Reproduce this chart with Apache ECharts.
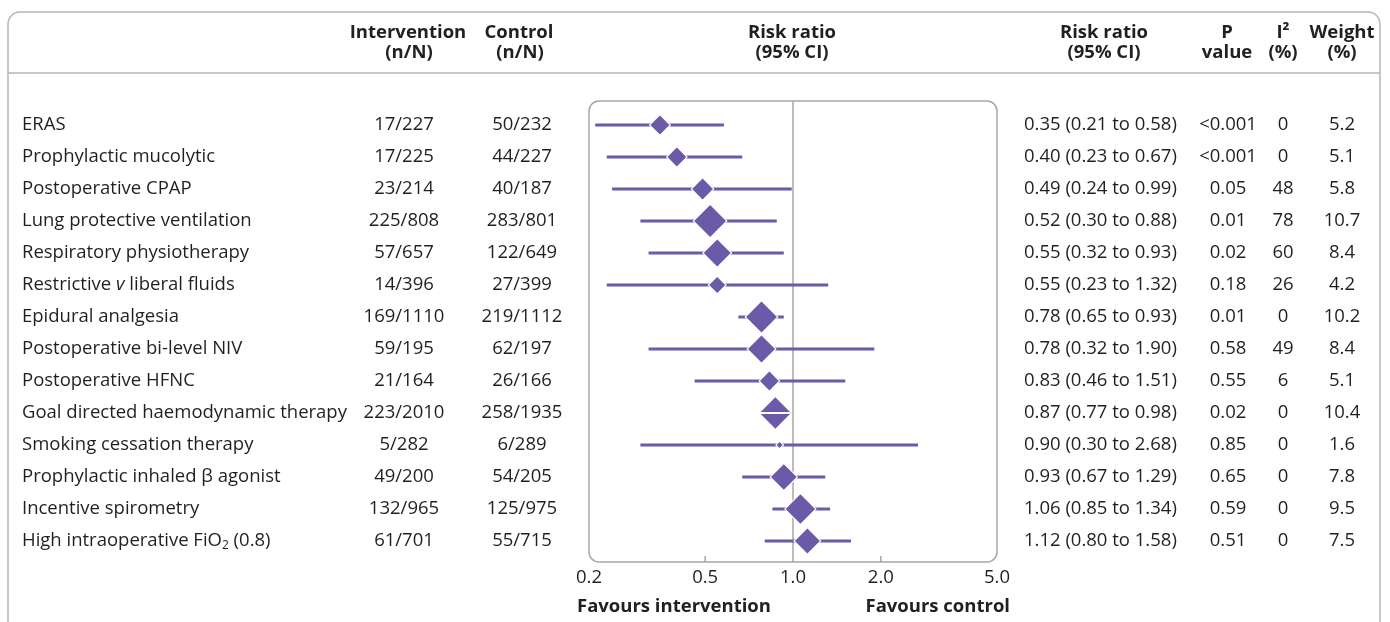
<!DOCTYPE html>
<html>
<head>
<meta charset="utf-8">
<script src="https://cdn.jsdelivr.net/npm/echarts@6/dist/echarts.min.js"></script>
<style>
html,body{margin:0;padding:0;background:#fff;}
#chart{width:1390px;height:622px;}
</style>
</head>
<body>
<div id="chart"></div>
<script>
// ---- data ----
const categories = [
  'ERAS', 'Prophylactic mucolytic', 'Postoperative CPAP', 'Lung protective ventilation',
  'Respiratory physiotherapy', 'Restrictive {i|v} liberal fluids', 'Epidural analgesia',
  'Postoperative bi-level NIV', 'Postoperative HFNC', 'Goal directed haemodynamic therapy',
  'Smoking cessation therapy', 'Prophylactic inhaled β agonist', 'Incentive spirometry',
  'High intraoperative FiO{sub|2} (0.8)'
];
const intervention = ['17/227','17/225','23/214','225/808','57/657','14/396','169/1110','59/195','21/164','223/2010','5/282','49/200','132/965','61/701'];
const control = ['50/232','44/227','40/187','283/801','122/649','27/399','219/1112','62/197','26/166','258/1935','6/289','54/205','125/975','55/715'];
const riskRatio = [0.35,0.40,0.49,0.52,0.55,0.55,0.78,0.78,0.83,0.87,0.90,0.93,1.06,1.12];
const ciLower = [0.21,0.23,0.24,0.30,0.32,0.23,0.65,0.32,0.46,0.77,0.30,0.67,0.85,0.80];
const ciUpper = [0.58,0.67,0.99,0.88,0.93,1.32,0.93,1.90,1.51,0.98,2.68,1.29,1.34,1.58];
const pValues = ['<0.001','<0.001','0.05','0.01','0.02','0.18','0.01','0.58','0.55','0.02','0.85','0.65','0.59','0.51'];
const i2 = [0,0,48,78,60,26,0,49,6,0,0,0,0,0];
const weights = [5.2,5.1,5.8,10.7,8.4,4.2,10.2,8.4,5.1,10.4,1.6,7.8,9.5,7.5];
const xTicks = [0.2,0.5,1.0,2.0,5.0];
const xTickLabels = ['0.2','0.5','1.0','2.0','5.0'];

// ---- layout ----
const PURPLE = '#6a5aa7';
const TEXT = '#231f20';
const GRAY = '#a6a6a6';
const FONT = '"Open Sans", "Noto Sans", sans-serif';
const FS = 18.5;
const G = {left: 589, top: 101, width: 408, height: 461};
const Y_MIN = -0.75, Y_MAX = 13.656;

const chart = echarts.init(document.getElementById('chart'), null, {renderer: 'canvas'});

const forestData = riskRatio.map((v, i) => [v, i, ciLower[i], ciUpper[i], weights[i]]);
const tableData = categories.map((c, i) => [1, i]);
const tickData = xTicks.map((t, i) => [t, Y_MAX, i]);

function txt(x, y, text, align, extra) {
  return {
    type: 'text',
    style: Object.assign({
      x: x, y: y, text: text, align: align, verticalAlign: 'middle',
      fill: TEXT, fontSize: FS, fontFamily: FONT
    }, extra || {})
  };
}
function diamond(cx, cy, h) {
  return [[cx - h, cy], [cx, cy - h], [cx + h, cy], [cx, cy + h]];
}

const option = {
  animation: false,
  grid: {left: G.left, top: G.top, width: G.width, height: G.height, show: false},
  xAxis: {
    type: 'log', logBase: 10, min: 0.2, max: 5,
    axisLine: {show: false}, axisTick: {show: false}, axisLabel: {show: false}, splitLine: {show: false}
  },
  yAxis: {
    type: 'value', inverse: true, min: Y_MIN, max: Y_MAX,
    axisLine: {show: false}, axisTick: {show: false}, axisLabel: {show: false}, splitLine: {show: false}
  },
  graphic: [
    {type: 'rect', shape: {x: 8, y: 12, width: 1372, height: 700, r: 12}, style: {fill: 'none', stroke: '#b5b5b5', lineWidth: 1.5}, z: 0},
    {type: 'line', shape: {x1: 8, y1: 73, x2: 1380, y2: 73}, style: {stroke: '#b5b5b5', lineWidth: 1.5}, z: 0},
    {type: 'rect', shape: {x: G.left, y: G.top, width: G.width, height: G.height, r: 10}, style: {fill: 'none', stroke: GRAY, lineWidth: 1.5}, z: 0},
    {type: 'group', children: [
      ['Intervention', 408, 33], ['(n/N)', 409, 53],
      ['Control', 519, 33], ['(n/N)', 520, 53],
      ['Risk ratio', 792, 33], ['(95% CI)', 792, 53],
      ['Risk ratio', 1104, 33], ['(95% CI)', 1104, 53],
      ['P', 1227, 33], ['value', 1227, 53],
      ['I²', 1283, 33], ['(%)', 1283, 53],
      ['Weight', 1342, 33], ['(%)', 1342, 53]
    ].map(h => ({type: 'text', style: {x: h[1], y: h[2], text: h[0], align: 'center', verticalAlign: 'middle', fill: TEXT, fontSize: FS, fontWeight: 'bold', fontFamily: FONT}}))}
  ],
  series: [
    {
      // reference line at 1.0, axis ticks and labels
      type: 'custom', coordinateSystem: 'cartesian2d', clip: false, z: 1,
      data: tickData,
      encode: {x: 0, y: 1},
      renderItem: function (params, api) {
        const t = api.value(0);
        const idx = api.value(2);
        const bottom = api.coord([t, Y_MAX]);
        const top = api.coord([t, Y_MIN]);
        const children = [];
        if (t === 1) {
          children.push({type: 'line', shape: {x1: top[0], y1: top[1], x2: bottom[0], y2: bottom[1]}, style: {stroke: GRAY, lineWidth: 1.5}});
        } else if (idx > 0 && idx < xTicks.length - 1) {
          children.push({type: 'line', shape: {x1: bottom[0], y1: bottom[1] - 6, x2: bottom[0], y2: bottom[1]}, style: {stroke: GRAY, lineWidth: 1.5}});
        }
        children.push(txt(bottom[0], bottom[1] + 16, xTickLabels[idx], 'center'));
        if (idx === 0) children.push(txt(bottom[0] - 12, bottom[1] + 45, 'Favours intervention', 'left', {fontWeight: 'bold'}));
        if (idx === xTicks.length - 1) children.push(txt(bottom[0] + 13, bottom[1] + 45, 'Favours control', 'right', {fontWeight: 'bold'}));
        return {type: 'group', children: children};
      }
    },
    {
      // CI lines and diamonds
      type: 'custom', coordinateSystem: 'cartesian2d', clip: false, z: 3,
      data: forestData,
      encode: {x: 0, y: 1},
      renderItem: function (params, api) {
        const y = api.value(1);
        const c = api.coord([api.value(0), y]);
        const lo = api.coord([api.value(2), y]);
        const hi = api.coord([api.value(3), y]);
        const w = api.value(4);
        const half = (12.9 * Math.sqrt(w) - 10.3) / 2;
        const children = [
          {type: 'line', shape: {x1: lo[0], y1: lo[1], x2: hi[0], y2: hi[1]}, style: {stroke: PURPLE, lineWidth: 3}},
          {type: 'polygon', shape: {points: diamond(c[0], c[1], half + 1.6)}, style: {fill: '#ffffff'}},
          {type: 'polygon', shape: {points: diamond(c[0], c[1], half)}, style: {fill: PURPLE}}
        ];
        if (lo[0] >= c[0] - half && hi[0] <= c[0] + half) {
          children.push({type: 'line', shape: {x1: lo[0], y1: lo[1], x2: hi[0], y2: hi[1]}, style: {stroke: '#ffffff', lineWidth: 2}});
        }
        return {type: 'group', children: children};
      }
    },
    {
      // table text columns
      type: 'custom', coordinateSystem: 'cartesian2d', clip: false, z: 2,
      data: tableData,
      encode: {x: 0, y: 1},
      renderItem: function (params, api) {
        const i = api.value(1);
        const y = api.coord([1, i])[1];
        const rrText = riskRatio[i].toFixed(2) + ' (' + ciLower[i].toFixed(2) + ' to ' + ciUpper[i].toFixed(2) + ')';
        return {type: 'group', children: [
          txt(22, y, categories[i], 'left', {rich: {
            i: {fontStyle: 'italic', fontSize: FS, fontFamily: FONT, fill: TEXT},
            sub: {fontSize: 12, fontFamily: FONT, fill: TEXT, padding: [10, 0, 0, 0]}
          }}),
          txt(404, y, intervention[i], 'center'),
          txt(522, y, control[i], 'center'),
          txt(1024, y, rrText, 'left'),
          txt(1228, y, pValues[i], 'center'),
          txt(1283, y, String(i2[i]), 'center'),
          txt(1342, y, weights[i].toFixed(1), 'center')
        ]};
      }
    }
  ]
};
chart.setOption(option);
</script>
</body>
</html>
